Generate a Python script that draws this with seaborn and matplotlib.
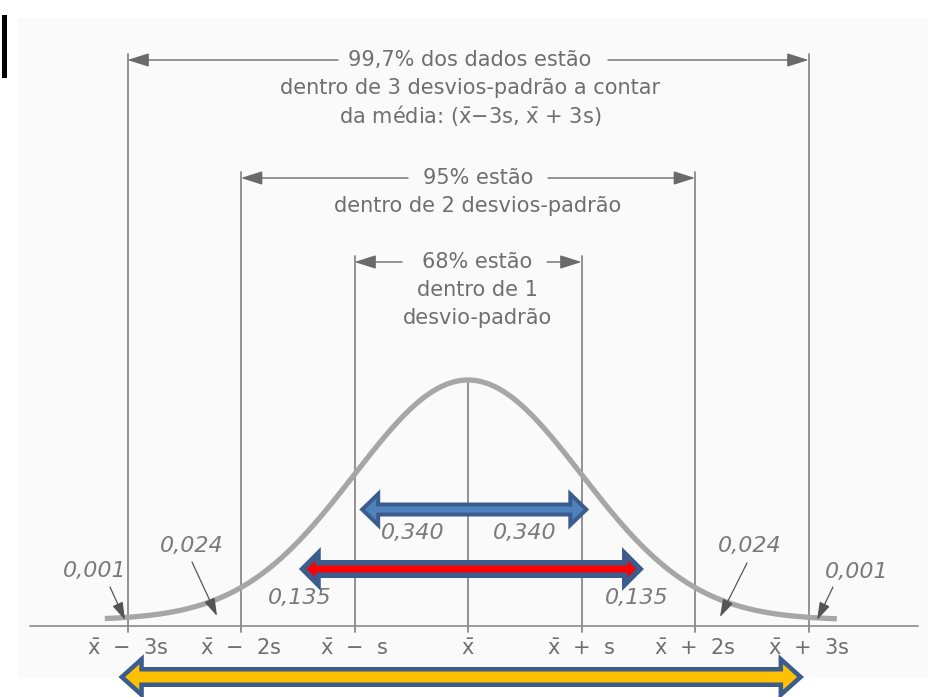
import numpy as np
import pandas as pd
import matplotlib
matplotlib.use("Agg")
import matplotlib.pyplot as plt
from matplotlib.patches import Polygon, Rectangle
import seaborn as sns

# ---- content -------------------------------------------------------------
sigma_steps = [-3, -2, -1, 0, 1, 2, 3]
tick_labels = [r"$\bar{\mathrm{x}}$  −  3s", r"$\bar{\mathrm{x}}$  −  2s", r"$\bar{\mathrm{x}}$  −  s",
               r"$\bar{\mathrm{x}}$", r"$\bar{\mathrm{x}}$  +  s", r"$\bar{\mathrm{x}}$  +  2s",
               r"$\bar{\mathrm{x}}$  +  3s"]

coverage_k = [3, 2, 1]
coverage_text = [
    ["99,7% dos dados estão", "dentro de 3 desvios-padrão a contar",
     r"da média: ($\bar{\mathrm{x}}$−3s, $\bar{\mathrm{x}}$ + 3s)"],
    ["95% estão", "dentro de 2 desvios-padrão"],
    ["68% estão", "dentro de 1", "desvio-padrão"],
]

area_labels = ["0,001", "0,024", "0,135", "0,340", "0,340", "0,135", "0,024", "0,001"]

# highlighted bands (start, end in units of s) and their colours
band_spans = [(-0.95, 1.06), (-1.48, 1.54), (-3.07, 2.95)]
band_fill = ["#4F81BD", "#FF0000", "#FFC000"]

curve_range = (-3.2, 3.25)

# ---- page geometry (pixel layout of the 932x697 page) -------------------
W, H = 932, 697
MEAN_PX, S_PX = 468.0, 113.5
BASE_PX = 626.0
PEAK = 1.0 / np.sqrt(2 * np.pi)
UNIT_PX = 240.0 / PEAK          # pixels per density unit
LIFT = 6.0 / UNIT_PX            # curve sits slightly above the axis line


def dx(px):
    return (px - MEAN_PX) / S_PX


def dy(py):
    return (BASE_PX - py) / UNIT_PX


sns.set_theme(style="white")
plt.rcParams["font.family"] = ["DejaVu Sans"]
plt.rcParams["mathtext.fontset"] = "dejavusans"

fig = plt.figure(figsize=(W / 100, H / 100), dpi=100)
ax = fig.add_axes([0, 0, 1, 1])
ax.set_xlim(dx(0), dx(W))
ax.set_ylim(dy(H), dy(0))
ax.axis("off")

# faint tint of the printed page
ax.add_patch(Rectangle((dx(18), dy(677)), dx(928) - dx(18), dy(18) - dy(677),
                       facecolor="#FAFAFB", edgecolor="none", zorder=0))
# black mark at the top-left corner
ax.add_patch(Rectangle((dx(2), dy(78)), dx(7) - dx(2), dy(15) - dy(78),
                       facecolor="black", edgecolor="none", zorder=1))

TXT = "#6F6F6F"
LINE = "#8A8A8A"

# normal curve
z = np.linspace(curve_range[0], curve_range[1], 500)
curve = pd.DataFrame({"z": z, "density": np.exp(-z ** 2 / 2) / np.sqrt(2 * np.pi) + LIFT})
sns.lineplot(data=curve, x="z", y="density", ax=ax, color="#A6A6A6", lw=3.8,
             zorder=3, solid_capstyle="butt")

# axis line
ax.plot([dx(30), dx(918)], [0, 0], color=LINE, lw=1.2, zorder=2)

# vertical guides and tick labels
top_of = {3: dy(54), 2: dy(172), 1: dy(256)}
for k, lab in zip(sigma_steps, tick_labels):
    top = PEAK + LIFT if k == 0 else top_of[abs(k)]
    ax.plot([k, k], [dy(632), top], color=LINE, lw=1.3, zorder=2)
    ax.text(k, dy(649), lab, ha="center", va="center", fontsize=15, color=TXT)

# coverage statements with dimension arrows
row_y = {3: [60, 88, 116], 2: [178, 206], 1: [262, 290, 318]}
text_cx = {3: 470, 2: 478, 1: 477}
gaps = {3: (338, 608), 2: (408, 548), 1: (402, 547)}
for k, lines in zip(coverage_k, coverage_text):
    ys = row_y[k]
    for line, yp in zip(lines, ys):
        ax.text(dx(text_cx[k]), dy(yp), line, ha="center", va="center",
                fontsize=15, color=TXT)
    ya = dy(ys[0])
    g0, g1 = gaps[k]
    for end, start in ((-k, dx(g0)), (k, dx(g1))):
        ax.annotate("", xy=(end, ya), xytext=(start, ya),
                    arrowprops=dict(arrowstyle="-|>,head_length=1.1,head_width=0.35",
                                    color="#6A6A6A", lw=1.0, shrinkA=0, shrinkB=0),
                    zorder=4)

# area labels
label_pos = [(95, 571), (192, 546), (300, 598), (413, 533),
             (525, 533), (637, 598), (750, 546), (857, 572)]
for lab, (px, py) in zip(area_labels, label_pos):
    ax.text(dx(px), dy(py), lab, ha="center", va="center", fontsize=16,
            style="italic", color="#7A7A7A", zorder=5)

# pointers from the tail labels to the tail areas
pointers = [((110, 587), (125, 620)), ((192, 562), (217, 616)),
            ((747, 563), (720, 617)), ((833, 587), (817, 620))]
for (sx, sy), (ex, ey) in pointers:
    ax.annotate("", xy=(dx(ex), dy(ey)), xytext=(dx(sx), dy(sy)),
                arrowprops=dict(arrowstyle="-|>,head_length=0.9,head_width=0.28",
                                color="#555555", lw=0.9, shrinkA=0, shrinkB=0),
                zorder=5)


# double-headed block arrows marking the bands
def block_arrow(x0, x1, y, shaft, head, head_len, fill, edge, lw_px):
    inset = lw_px / 2.0
    hx = (head_len - inset) / S_PX
    tip = inset / S_PX
    sh = (shaft - inset) / UNIT_PX
    hh = (head - inset) / UNIT_PX
    a, b = x0 + tip, x1 - tip
    pts = [(a, y), (a + hx, y + hh), (a + hx, y + sh), (b - hx, y + sh),
           (b - hx, y + hh), (b, y), (b - hx, y - hh), (b - hx, y - sh),
           (a + hx, y - sh), (a + hx, y - hh)]
    ax.add_patch(Polygon(pts, closed=True, facecolor=fill, edgecolor=edge,
                         lw=lw_px * 0.72, joinstyle="miter", zorder=6))


band_y = [dy(509.5), dy(569), dy(677)]
band_geom = [(7, 17.5, 18, 4.0), (9, 18, 18, 5.5), (10, 20, 22, 4.5)]
for (x0, x1), yb, fill, (sh, hh, hl, lw) in zip(band_spans, band_y, band_fill, band_geom):
    block_arrow(x0, x1, yb, sh, hh, hl, fill, "#3B5D8E", lw)

fig.savefig("out.png", dpi=100)
